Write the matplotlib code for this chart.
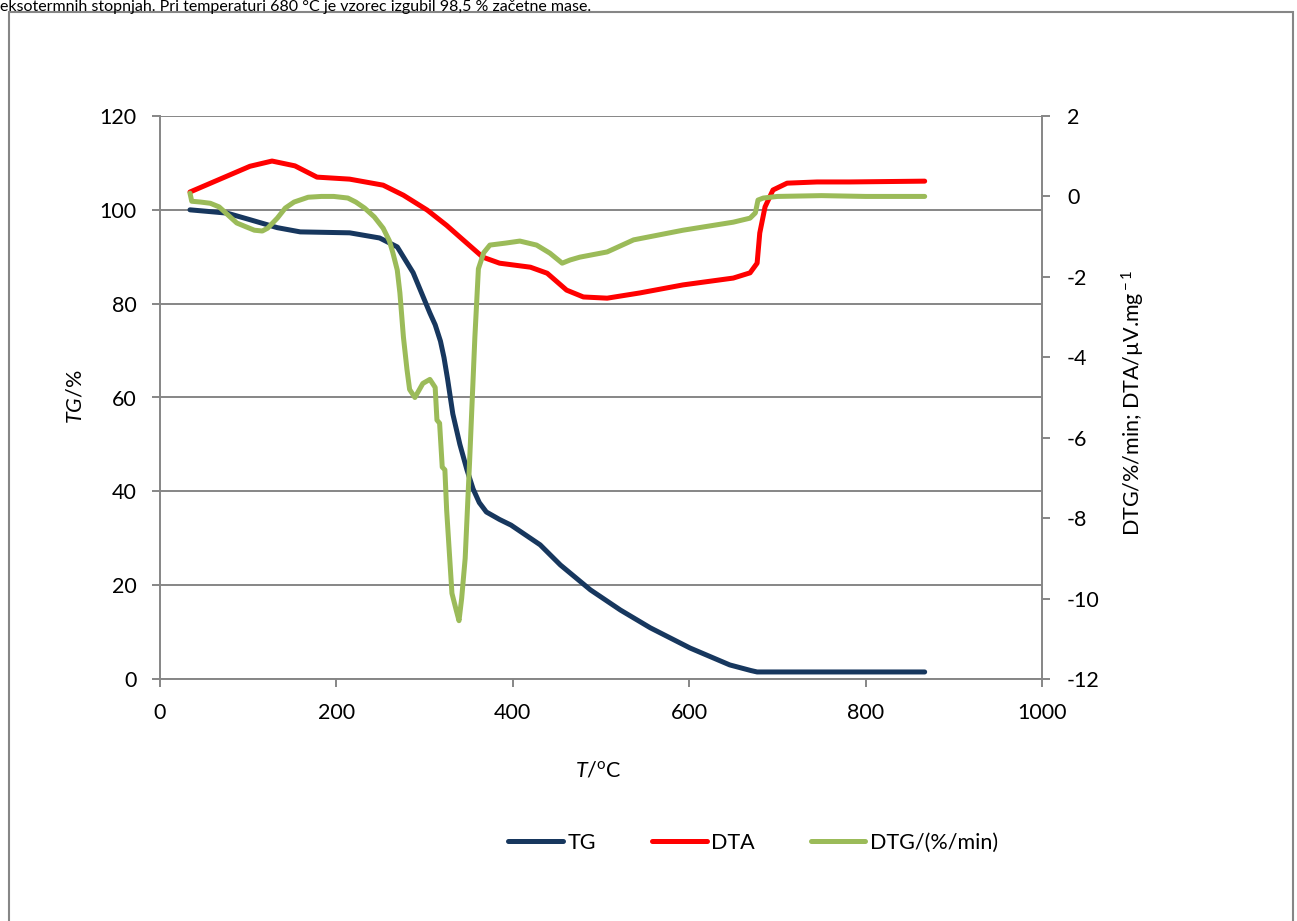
import matplotlib
matplotlib.use("Agg")
import matplotlib.pyplot as plt
from matplotlib.patches import Rectangle

plt.rcParams['font.family'] = ['Lato', 'DejaVu Sans']
plt.rcParams['axes.unicode_minus'] = False
plt.rcParams['mathtext.fontset'] = 'custom'
plt.rcParams['mathtext.rm'] = 'Lato'
plt.rcParams['mathtext.it'] = 'Lato:italic'

# TG (levo os)
tg_T = [34, 76, 102, 133, 159, 215, 249, 269, 287, 306, 312, 318, 322, 326, 332, 340, 348,
        355, 362, 370, 385, 398, 431, 454, 488, 522, 556, 601, 646, 670, 677, 867]
tg_val = [100, 99.3, 97.9, 96.2, 95.3, 95.1, 94, 92.1, 86.6, 78, 75.5, 72, 68.5, 64, 56.5,
          50, 44.6, 40.5, 37.6, 35.6, 34, 32.8, 28.6, 24.3, 19, 14.7, 10.9, 6.6, 3, 1.8,
          1.5, 1.5]

# DTA (desna os)
dta_T = [34, 102, 127, 153, 178, 215, 253, 276, 303, 325, 340, 366, 385, 420, 439, 461,
         480, 507, 544, 593, 650, 669, 677, 680, 686, 695, 711, 745, 782, 867]
dta_val = [0.11, 0.75, 0.88, 0.76, 0.48, 0.43, 0.28, 0.03, -0.34, -0.72, -1.01, -1.51, -1.66,
           -1.76, -1.91, -2.33, -2.5, -2.53, -2.4, -2.2, -2.03, -1.9, -1.66, -0.91, -0.26,
           0.16, 0.33, 0.36, 0.36, 0.38]

# DTG (desna os)
dtg_T = [34, 36, 46, 57, 67, 77, 87, 98, 107, 116, 122, 133, 142, 152, 168, 183, 197, 213,
         222, 232, 243, 253, 260, 264, 269, 272, 276, 280, 283, 289, 298, 306, 312, 314, 317,
         320, 323, 325, 331, 336, 339, 342, 346, 351, 357, 361, 367, 374, 392, 408, 427, 442,
         456, 465, 476, 507, 537, 593, 650, 669, 675, 678, 684, 700, 750, 800, 867]
dtg_val = [0.08, -0.12, -0.14, -0.17, -0.26, -0.46, -0.66, -0.76, -0.84, -0.86, -0.79, -0.54,
           -0.29, -0.14, -0.02, 0.0, 0.0, -0.04, -0.14, -0.29, -0.51, -0.79, -1.1, -1.4, -1.83,
           -2.4, -3.5, -4.3, -4.8, -5.0, -4.65, -4.55, -4.75, -5.56, -5.64, -6.73, -6.8, -7.8,
           -9.87, -10.3, -10.55, -10.0, -9.0, -6.6, -3.5, -1.8, -1.4, -1.21, -1.16, -1.11,
           -1.21, -1.41, -1.66, -1.58, -1.51, -1.38, -1.08, -0.84, -0.64, -0.54, -0.41, -0.09,
           -0.04, 0.0, 0.02, 0.0, 0.0]

x_ticks = [0, 200, 400, 600, 800, 1000]
tg_ticks = [0, 20, 40, 60, 80, 100, 120]
right_ticks = [-12, -10, -8, -6, -4, -2, 0, 2]

top_text = "eksotermnih stopnjah. Pri temperaturi 680 °C je vzorec izgubil 98,5 % začetne mase."

W, H = 1297, 921
fig = plt.figure(figsize=(W / 100, H / 100), dpi=100)
grey = '#868686'
fs = 15.5

# okvir grafikona
fig.patches.append(Rectangle((9 / W, -0.1), (1293 - 9) / W, 1.1 - 12 / H,
                             transform=fig.transFigure, fill=False, edgecolor=grey, lw=1.5))
fig.text(0.0, 1 - 11 / H, top_text, fontsize=11.5, va='baseline', ha='left')

ax = fig.add_axes([160 / W, 1 - 679 / H, (1042 - 160) / W, (679 - 116) / H])
ax2 = ax.twinx()

l1, = ax.plot(tg_T, tg_val, color='#17375E', lw=3.6, solid_capstyle='round',
              solid_joinstyle='round', label='TG')
l2, = ax2.plot(dta_T, dta_val, color='#FF0000', lw=3.6, solid_capstyle='round',
               solid_joinstyle='round', label='DTA')
l3, = ax2.plot(dtg_T, dtg_val, color='#9BBB59', lw=3.6, solid_capstyle='round',
               solid_joinstyle='round', label='DTG/(%/min)')

ax.set_xlim(0, 1000)
ax.set_ylim(0, 120)
ax2.set_ylim(-12, 2)
ax.set_xticks(x_ticks)
ax.set_yticks(tg_ticks)
ax2.set_yticks(right_ticks)

ax.grid(axis='y', color=grey, lw=1.4)
ax.set_axisbelow(True)
for a in (ax, ax2):
    for s in a.spines.values():
        s.set_visible(False)
ax.spines['left'].set_visible(True)
ax.spines['bottom'].set_visible(True)
ax2.spines['right'].set_visible(True)
for s in (ax.spines['left'], ax.spines['bottom'], ax2.spines['right']):
    s.set_color(grey)
    s.set_linewidth(1.4)

ax.tick_params(axis='both', labelsize=fs, length=6, width=1.4, color=grey, pad=11)
ax2.tick_params(axis='y', labelsize=fs, length=6, width=1.4, color=grey, pad=12)

fig.text(75 / W, 1 - 397 / H, r'$\it{TG}$/%', fontsize=fs, rotation=90, ha='center', va='center')
fig.text(1133 / W, 1 - 403 / H, r'DTG/%/min; DTA/µV.mg$^{\rm -1}$', fontsize=fs, rotation=90,
         ha='center', va='center')
fig.text(598 / W, 1 - 770 / H, r'$\it{T}$/$^{\rm o}$C', fontsize=fs, ha='center', va='center')

fig.legend(handles=[l1, l2, l3], loc='center', bbox_to_anchor=(753 / W, 1 - 843 / H),
           ncol=3, frameon=False, fontsize=fs, handlelength=2.55, handletextpad=0.2,
           columnspacing=2.6)

fig.savefig('out.png', dpi=100)
